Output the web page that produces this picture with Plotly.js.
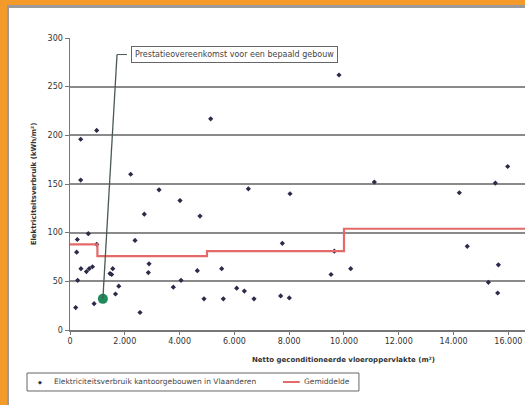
<!DOCTYPE html>
<html>
<head>
<meta charset="utf-8">
<script src="https://cdn.plot.ly/plotly-3.0.1.min.js"></script>
<style>
html,body{margin:0;padding:0;background:#fff;}
#outer{position:absolute;left:0;top:0;width:525px;height:405px;background:#f39a2a;overflow:hidden;}
#gray{position:absolute;left:7px;top:5px;width:530px;height:410px;background:#9a9a9a;}
#chart{position:absolute;left:9px;top:8px;width:516px;height:397px;background:#fff;}
</style>
</head>
<body>
<div id="outer"><div id="gray"></div><div id="chart"></div></div>
<script>
// Buildings: net conditioned floor area (m²) and electricity use (kWh/m²)
const areaM2 = [390, 974, 390, 2215, 5135, 3250, 6510, 4015, 9818, 8030, 11108, 14210, 15525, 15975,
  2712, 4745, 267, 669, 2373, 243, 2884, 2859, 400, 600, 700, 820, 1460, 1520, 1560, 280, 1780, 1660,
  880, 208, 2555, 3771, 4052, 4647, 5536, 4891, 5596, 6084, 6363, 6716, 7750, 9648, 9527, 10245,
  7690, 8005, 14500, 15635, 15270, 15610, 975];
const elecUse = [196, 205, 154, 160, 217, 144, 145, 133, 262, 140, 152, 141, 151, 168,
  119, 117, 93, 99, 92, 80, 68, 59, 63, 60, 63, 65, 58, 57, 63, 51, 45, 37,
  27, 23, 18, 44, 51, 61, 63, 32, 32, 43, 40, 32, 89, 81, 57, 63,
  35, 33, 86, 67, 49, 38, 88];
// Average per floor-area class (step line)
const classStart = [0, 1000, 5000, 10000, 18000];
const classMean = [88, 76, 81, 104, 104];
// Highlighted building
const highlightX = [1200];
const highlightY = [32];
const calloutText = 'Prestatieovereenkomst voor een bepaald gebouw';
const calloutX = 2230, calloutY = 283, elbowX = 1716;
const legendNames = ['Elektriciteitsverbruik kantoorgebouwen in Vlaanderen', 'Gemiddelde'];

const xTicks = [0, 2000, 4000, 6000, 8000, 10000, 12000, 14000, 16000];
const yTicks = [0, 50, 100, 150, 200, 250, 300];

const F = 'DejaVu Sans, sans-serif';
const dotColor = '#2b2b4a', meanColor = '#e46a6a';
const traces = [
  {x: areaM2, y: elecUse, type: 'scatter', mode: 'markers', name: legendNames[0],
   marker: {symbol: 'diamond', size: 4, color: dotColor}},
  {x: classStart, y: classMean, type: 'scatter', mode: 'lines', line: {shape: 'hv', color: meanColor, width: 2.2},
   name: legendNames[1]},
  {x: highlightX, y: highlightY, type: 'scatter', mode: 'markers',
   marker: {size: 10, color: '#1f8a5c'}}
];
const legY = -0.178;
const layout = {
  width: 516, height: 397,
  margin: {l: 61, r: 0, t: 30, b: 75, pad: 0},
  paper_bgcolor: '#fff', plot_bgcolor: '#fff',
  separators: ',.',
  font: {family: F, size: 8, color: '#333'},
  showlegend: false,
  xaxis: {range: [0, 16607], tickvals: xTicks, tickformat: ',d', showgrid: false, zeroline: false,
    showline: true, linecolor: '#777', linewidth: 1.5, ticks: 'outside', ticklen: 3, tickcolor: '#777',
    tickfont: {family: F, size: 8, color: '#333'}},
  yaxis: {range: [0, 300], tickvals: yTicks, showgrid: true, gridcolor: '#8a8a8a', gridwidth: 1.8,
    zeroline: false, showline: true, linecolor: '#777', linewidth: 1.5, ticks: 'outside', ticklen: 4,
    tickcolor: '#777', tickfont: {family: F, size: 8, color: '#333'},
    title: {text: '<b>Elektriciteitsverbruik (kWh/m²)</b>', font: {family: F, size: 7, color: '#333'}, standoff: 10}},
  shapes: [
    {type: 'line', xref: 'x', yref: 'y', x0: highlightX[0], y0: highlightY[0], x1: elbowX, y1: calloutY,
     line: {color: '#4a5a52', width: 1.3}},
    {type: 'line', xref: 'x', yref: 'y', x0: elbowX, y0: calloutY, x1: calloutX - 150, y1: calloutY,
     line: {color: '#4a5a52', width: 1}},
    // legend box
    {type: 'rect', xref: 'paper', yref: 'paper', x0: -0.0945, x1: 0.635, y0: -0.2089, y1: -0.1473,
     line: {color: '#666', width: 1}, fillcolor: '#fff'},
    {type: 'line', xref: 'paper', yref: 'paper', x0: 0.468, x1: 0.505, y0: legY, y1: legY,
     line: {color: meanColor, width: 2}}
  ],
  annotations: [
    {x: calloutX, y: calloutY, xref: 'x', yref: 'y', xanchor: 'left', yanchor: 'middle', showarrow: false,
     text: calloutText, font: {family: F, size: 8, color: '#444'}, bordercolor: '#666', borderwidth: 1,
     borderpad: 3, bgcolor: '#fff'},
    {x: 0.602, y: -0.103, xref: 'paper', yref: 'paper', xanchor: 'center', yanchor: 'middle', showarrow: false,
     text: '<b>Netto geconditioneerde vloeroppervlakte (m²)</b>', font: {family: F, size: 7, color: '#333'}},
    {x: -0.066, y: legY, xref: 'paper', yref: 'paper', xanchor: 'center', yanchor: 'middle', showarrow: false,
     text: '◆', font: {family: F, size: 5, color: dotColor}},
    {x: -0.0396, y: legY, xref: 'paper', yref: 'paper', xanchor: 'left', yanchor: 'middle', showarrow: false,
     text: legendNames[0], font: {family: F, size: 7.5, color: '#444'}},
    {x: 0.510, y: legY, xref: 'paper', yref: 'paper', xanchor: 'left', yanchor: 'middle', showarrow: false,
     text: legendNames[1], font: {family: F, size: 7.5, color: '#444'}}
  ]
};
Plotly.newPlot('chart', traces, layout, {staticPlot: true, displayModeBar: false});
</script>
</body>
</html>
